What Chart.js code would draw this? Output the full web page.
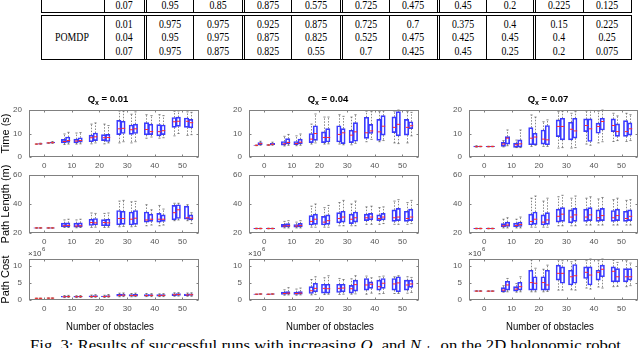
<!DOCTYPE html>
<html><head><meta charset="utf-8">
<script src="https://cdn.jsdelivr.net/npm/chart.js@4"></script>
<style>
html,body{margin:0;padding:0;background:#fff;}
#wrap{position:relative;width:640px;height:348px;overflow:hidden;background:#fff;}
canvas.pc{position:absolute;left:0;top:0;}
.t{position:absolute;font-family:"Liberation Serif","Times New Roman",serif;font-size:12px;line-height:12px;color:#000;white-space:nowrap;}
.ln{position:absolute;background:#000;}
#cap{position:absolute;left:30px;top:337.5px;font-family:"Liberation Serif","Times New Roman",serif;font-size:15px;line-height:15px;white-space:nowrap;transform-origin:0 0;color:#000;}
#cap sub{font-size:10px;vertical-align:-3px;line-height:0;}
</style></head><body><div id="wrap"></div>
<script>
// ---------------- data ----------------
const obstacles = [0, 10, 20, 30, 40, 50];
const qLabels = ['0.01', '0.04', '0.07'];
const yLabels = ['Time (s)', 'Path Length (m)', 'Path Cost'];
const timeTicks = [0, 10, 20];
const lengthTicks = [20, 40, 60];
const costTicks = [0, 5, 10];
const costExponent = '6';
const xLabel = 'Number of obstacles';

// each entry: [min, q1, median, q3, max]; four boxes per obstacle count
const time_q001 = [
  [5.4,5.5,5.5,5.5,5.6],[5.4,5.5,5.6,5.7,5.9],[5.8,5.9,6.0,6.0,6.1],[5.8,6.0,6.1,6.3,6.6],
  [5.3,6.0,6.6,7.5,9.8],[5.5,6.2,7.0,8.5,10.5],[5.5,6.0,6.8,7.6,10.2],[5.6,6.3,7.0,8.2,10.4],
  [5.6,6.5,8.2,9.3,14.0],[6.0,7.0,8.6,10.2,14.5],[5.6,7.0,8.2,9.5,14.0],[6.0,6.6,8.3,9.6,13.4],
  [6.0,9.5,12.0,15.6,19.6],[6.5,10.0,12.2,15.2,19.5],[6.0,9.6,11.6,13.6,18.2],[6.5,10.0,12.0,14.0,19.2],
  [8.0,9.4,11.7,14.6,18.0],[8.5,9.5,10.8,14.0,17.6],[8.0,9.0,10.8,13.8,18.0],[8.2,9.5,11.2,13.6,17.6],
  [9.0,12.6,15.0,16.8,19.5],[10.0,13.0,15.2,17.0,19.6],[9.2,12.6,15.2,16.6,19.2],[9.5,12.4,14.6,16.0,19.0]
];
const time_q004 = [
  [4.8,4.9,5.0,5.0,5.1],[5.0,5.3,5.7,6.1,6.7],[4.9,5.0,5.1,5.2,5.3],[5.0,5.2,5.4,5.8,6.3],
  [4.7,5.0,5.6,6.6,8.8],[5.0,5.6,6.2,7.8,9.6],[4.8,5.2,5.7,6.6,9.0],[5.0,5.6,6.3,7.6,9.8],
  [5.5,6.1,7.6,10.0,14.0],[6.0,7.1,10.0,13.3,18.3],[5.5,6.1,8.3,10.7,17.0],[5.6,6.4,8.3,12.1,17.0],
  [5.5,6.4,9.6,13.3,18.0],[5.2,5.7,10.3,12.1,17.3],[5.2,6.1,9.3,11.4,17.0],[5.8,6.7,10.7,14.6,18.0],
  [6.5,7.9,10.3,16.9,19.5],[7.5,10.0,11.1,13.9,19.3],[6.5,7.1,10.7,16.0,19.3],[7.0,9.3,13.1,17.6,19.6],
  [6.0,10.4,12.6,17.1,19.5],[5.7,9.0,13.9,19.3,20.0],[6.0,9.3,12.6,16.0,19.3],[9.0,12.1,13.3,15.0,19.0]
];
const time_q007 = [
  [4.2,4.3,4.4,4.6,4.8],[4.3,4.4,4.5,4.5,4.6],[4.3,4.4,4.4,4.5,4.6],[4.3,4.4,4.5,4.5,4.6],
  [4.3,4.5,5.5,6.2,7.0],[4.8,5.5,8.0,8.7,11.5],[4.0,4.1,5.2,5.9,7.2],[4.0,4.2,5.6,7.3,11.5],
  [4.5,5.2,8.0,12.5,17.9],[5.0,5.2,8.5,10.1,17.0],[4.5,5.5,7.6,11.5,15.0],[4.5,5.2,7.3,13.4,15.8],
  [3.8,8.7,13.0,15.8,19.3],[4.0,7.3,13.0,16.5,19.5],[3.8,7.3,11.8,14.8,18.6],[4.0,8.0,11.1,16.5,19.3],
  [5.5,10.8,13.4,16.2,19.6],[5.0,6.6,12.0,16.2,19.8],[6.0,10.1,13.0,14.4,19.5],[6.5,11.5,15.1,16.5,20.0],
  [6.6,10.8,13.4,16.2,18.6],[7.0,8.8,10.8,14.1,17.5],[6.6,8.8,10.8,15.5,18.6],[7.0,9.3,12.0,14.5,18.0]
];
const length_q001 = [
  [23.2,23.4,23.5,23.6,23.8],[23.2,23.4,23.5,23.6,23.8],[23.2,23.4,23.5,23.6,23.8],[23.2,23.4,23.5,23.6,23.8],
  [23.8,24.2,25.0,26.8,29.0],[23.8,24.2,25.2,27.0,29.5],[23.6,24.0,24.8,26.8,29.0],[23.8,24.2,25.0,27.0,29.5],
  [23.8,25.2,27.2,29.5,33.8],[24.0,25.5,27.0,30.0,33.5],[23.8,25.0,27.2,29.2,33.5],[24.0,25.0,27.0,29.5,33.8],
  [24.3,25.6,30.0,35.5,42.0],[24.5,26.0,30.0,35.0,42.5],[24.3,25.5,29.5,34.5,41.5],[24.5,26.0,30.2,35.5,41.8],
  [25.0,27.5,29.0,34.5,39.5],[25.5,28.0,29.5,33.0,36.0],[25.0,27.5,29.5,33.5,39.0],[25.5,28.0,29.5,32.5,36.5],
  [28.5,29.0,34.0,39.0,40.5],[29.0,30.0,36.0,39.5,40.5],[28.5,29.5,30.5,38.5,39.5],[26.5,29.0,30.2,32.5,34.0]
];
const length_q004 = [
  [22.8,23.0,23.1,23.2,23.4],[22.8,23.0,23.1,23.2,23.4],[22.8,23.0,23.1,23.2,23.4],[22.8,23.0,23.1,23.2,23.4],
  [23.5,24.0,24.8,26.0,28.0],[23.5,24.2,25.0,26.5,28.5],[23.5,24.0,24.8,25.8,27.5],[23.5,24.2,25.2,26.6,28.5],
  [24.0,25.5,28.0,32.0,38.5],[24.0,26.0,29.5,33.0,40.0],[24.0,25.5,27.5,31.5,37.5],[24.0,26.0,28.5,32.5,39.0],
  [25.0,27.0,30.0,34.0,41.0],[25.0,27.5,31.0,35.0,42.5],[25.0,26.5,29.5,33.0,40.0],[25.0,27.5,30.5,34.5,42.0],
  [26.0,28.5,30.5,33.0,38.0],[26.0,29.0,31.0,33.5,38.5],[26.0,28.5,30.0,32.5,37.5],[26.5,29.0,31.0,33.5,38.0],
  [26.0,28.0,30.5,36.0,42.0],[26.0,28.5,31.0,37.0,43.0],[26.0,28.0,30.0,35.0,41.0],[26.5,28.5,31.0,36.5,42.5]
];
const length_q007 = [
  [22.8,23.0,23.1,23.2,23.4],[22.8,23.0,23.1,23.2,23.4],[22.8,23.0,23.1,23.2,23.4],[22.8,23.0,23.1,23.2,23.4],
  [23.5,24.2,25.0,26.5,29.5],[23.5,24.5,25.5,27.5,30.5],[23.5,24.2,25.2,26.8,29.5],[23.5,24.5,25.8,27.5,31.0],
  [24.0,25.5,28.0,33.0,44.0],[24.0,26.0,29.5,34.5,45.5],[24.0,25.5,27.5,32.5,42.0],[24.0,26.0,29.0,34.0,44.0],
  [25.0,27.5,31.5,36.5,45.0],[25.0,28.0,33.0,37.5,46.0],[25.0,27.0,31.0,36.0,44.0],[25.0,28.0,32.5,37.0,45.5],
  [25.5,28.0,31.0,36.5,44.0],[25.5,28.5,32.5,37.5,45.0],[25.5,28.0,30.5,36.0,43.5],[25.5,28.5,32.0,37.0,44.5],
  [25.5,28.0,30.5,35.5,43.0],[25.5,28.5,32.0,36.5,44.0],[25.5,28.0,30.0,35.0,42.5],[25.5,28.5,31.5,36.0,43.0]
];
const cost_q001 = [
  [0.45,0.5,0.5,0.5,0.55],[0.45,0.5,0.5,0.5,0.55],[0.5,0.55,0.55,0.55,0.6],[0.5,0.55,0.55,0.55,0.6],
  [0.7,0.85,0.95,1.1,1.3],[0.75,0.9,1.0,1.15,1.35],[0.7,0.85,0.95,1.05,1.25],[0.75,0.9,1.0,1.1,1.3],
  [0.75,0.9,1.0,1.2,1.45],[0.8,0.95,1.05,1.3,1.55],[0.75,0.9,1.0,1.15,1.4],[0.8,0.95,1.1,1.3,1.6],
  [0.95,1.15,1.35,1.65,2.0],[1.0,1.2,1.4,1.7,2.05],[0.95,1.1,1.3,1.6,1.9],[1.0,1.15,1.35,1.65,2.0],
  [1.0,1.15,1.3,1.6,1.9],[1.0,1.2,1.35,1.6,1.85],[1.0,1.15,1.3,1.55,1.8],[1.0,1.2,1.35,1.6,1.85],
  [1.1,1.3,1.55,1.8,2.1],[1.15,1.35,1.6,1.85,2.15],[1.1,1.3,1.5,1.75,2.05],[1.1,1.35,1.55,1.8,2.1]
];
const cost_q004 = [
  [1.6,1.65,1.7,1.7,1.75],[1.65,1.7,1.75,1.8,1.85],[1.6,1.65,1.7,1.7,1.75],[1.65,1.7,1.75,1.8,1.85],
  [1.4,1.6,1.9,2.3,3.0],[1.5,1.7,2.0,2.5,3.6],[1.4,1.6,1.9,2.3,3.2],[1.5,1.7,2.0,2.5,3.5],
  [1.5,1.9,2.7,3.9,6.0],[1.6,2.4,3.4,4.9,6.8],[1.6,2.0,3.4,4.6,6.5],[1.7,2.0,3.3,4.6,7.1],
  [1.6,2.2,3.4,4.6,6.3],[1.7,2.4,3.5,4.6,6.0],[1.7,2.0,3.3,4.3,6.2],[1.8,2.6,4.5,5.8,7.1],
  [1.7,2.9,4.4,6.3,7.0],[2.0,3.4,4.6,5.3,6.5],[1.8,2.9,3.9,5.8,6.8],[1.9,3.4,4.9,6.3,7.0],
  [1.9,2.9,4.7,6.3,6.8],[1.9,2.4,5.0,6.8,7.1],[2.0,2.9,4.4,5.8,6.8],[2.2,3.7,4.7,5.8,6.6]
];
const cost_q007 = [
  [2.5,2.55,2.6,2.65,2.75],[2.5,2.55,2.6,2.65,2.75],[2.5,2.55,2.6,2.6,2.7],[2.5,2.55,2.6,2.65,2.7],
  [2.3,2.4,2.9,3.6,4.2],[2.4,2.9,4.4,5.5,6.3],[2.3,2.6,3.2,3.9,4.8],[2.4,2.9,3.9,5.2,6.8],
  [2.4,2.9,5.1,8.7,11.7],[2.4,2.9,4.9,6.8,9.3],[2.4,2.9,5.1,6.8,9.0],[2.5,2.9,4.4,8.7,10.2],
  [2.9,5.8,7.8,10.2,11.7],[2.9,4.9,7.8,9.7,11.5],[3.0,4.4,6.8,8.7,11.2],[2.9,4.9,7.1,10.4,11.7],
  [3.5,6.3,8.1,9.7,11.5],[3.2,4.4,7.3,9.7,12.0],[3.8,5.8,8.1,8.7,11.5],[3.5,6.8,9.0,10.2,12.0],
  [3.9,5.3,8.4,9.7,11.7],[4.0,5.3,6.8,9.2,11.0],[3.9,5.3,6.8,9.2,11.5],[4.2,5.8,6.8,9.2,10.8]
];

// table values
const tablePrevRow = ['0.07','0.95','0.85','0.875','0.575','0.725','0.475','0.45','0.2','0.225','0.125'];
const pomdpLabel = 'POMDP';
const pomdpRows = [
  ['0.01','0.975','0.975','0.925','0.875','0.725','0.7','0.375','0.4','0.15','0.225'],
  ['0.04','0.95','0.975','0.875','0.825','0.525','0.475','0.425','0.45','0.4','0.25'],
  ['0.07','0.975','0.875','0.825','0.55','0.7','0.425','0.45','0.25','0.2','0.075']
];
const captionHtml = 'Fig. 3: Results of successful runs with increasing <i>Q</i><sub><i>x</i></sub> and <i>N</i><sub><i>obs</i></sub> on the 2D holonomic robot.';

// ---------------- layout ----------------
const wrap = document.getElementById('wrap');
const SANS = '"Liberation Sans", Arial, Helvetica, sans-serif';
const BOX_OFFSETS = [-3, -1.5, 1.5, 3];
const COL_L = [29, 249, 469], COL_R = [199, 419, 638];
const ROW_T = [110, 175, 259], ROW_B = [157, 233, 300];
const Y_RANGE = [[0, 20], [20, 60], [0, 12]];
const X_RANGE = [-5.5, 56];
const panelStats = [[time_q001, time_q004, time_q007], [length_q001, length_q004, length_q007], [cost_q001, cost_q004, cost_q007]];
const panelTicks = [timeTicks, lengthTicks, costTicks];

// table
const TBL_L = 41, TBL_R = 631;
const VX = [41, 104, 144, 146, 193, 242, 244, 291, 340, 342, 389, 437, 439, 486, 533, 535, 583, 631];
const CX = [124, 169.5, 218, 267.5, 315.5, 365.5, 413, 462.5, 509.5, 559, 607];
function addLine(x, y, w, h) {
  const d = document.createElement('div'); d.className = 'ln';
  d.style.left = x + 'px'; d.style.top = y + 'px'; d.style.width = w + 'px'; d.style.height = h + 'px';
  wrap.appendChild(d);
}
function addCell(txt, cx, cy) {
  const d = document.createElement('div'); d.className = 't'; d.textContent = txt;
  d.style.left = cx + 'px'; d.style.top = cy + 'px';
  d.style.transform = 'translate(-50%,-50%) scaleX(0.82)';
  wrap.appendChild(d);
}
VX.forEach(x => { addLine(x, 0, 1, 13); addLine(x, 16, 1, 44); });
addLine(TBL_L, 12, TBL_R - TBL_L + 1, 1);
addLine(TBL_L, 15, TBL_R - TBL_L + 1, 1);
addLine(TBL_L, 59, TBL_R - TBL_L + 1, 1);
tablePrevRow.forEach((v, i) => addCell(v, CX[i], 5));
addCell(pomdpLabel, 72, 37);
const ROW_Y = [23.5, 37, 50.5];
pomdpRows.forEach((row, r) => row.forEach((v, i) => addCell(v, CX[i], ROW_Y[r])));

// caption
const cap = document.createElement('div'); cap.id = 'cap'; cap.innerHTML = captionHtml; wrap.appendChild(cap);
const cw = cap.getBoundingClientRect().width; cap.style.transform = 'scaleX(' + (595 / cw) + ')';

// ---------------- charts ----------------
function seg(ctx, x1, y1, x2, y2) { ctx.beginPath(); ctx.moveTo(x1, y1); ctx.lineTo(x2, y2); ctx.stroke(); }

function boxPlugin(r, c, stats, yTicks) {
  return {
    id: 'boxplot' + r + c,
    afterDatasetsDraw(chart) {
      const ctx = chart.ctx, ys = chart.scales.y, meta = chart.getDatasetMeta(0);
      ctx.save();
      stats.forEach((s, i) => {
        const el = meta.data[i]; const x = Math.round(el.x) + 0.5; const w = el.width;
        const py = v => ys.getPixelForValue(v);
        ctx.strokeStyle = '#555'; ctx.lineWidth = 0.7; ctx.setLineDash([1.5, 1.5]);
        seg(ctx, x, py(s[3]), x, py(s[4]));
        seg(ctx, x, py(s[1]), x, py(s[0]));
        ctx.setLineDash([]);
        seg(ctx, x - w / 4, py(s[4]), x + w / 4, py(s[4]));
        seg(ctx, x - w / 4, py(s[0]), x + w / 4, py(s[0]));
        ctx.strokeStyle = '#ff2a2a'; ctx.lineWidth = 1;
        seg(ctx, x - w / 2 + 0.5, py(s[2]), x + w / 2 - 0.5, py(s[2]));
      });
      ctx.restore();
    },
    afterDraw(chart) {
      const ctx = chart.ctx, a = chart.chartArea, xs = chart.scales.x, ys = chart.scales.y;
      ctx.save();
      ctx.strokeStyle = '#808080'; ctx.lineWidth = 1;
      const L = Math.round(a.left) + 0.5, T = Math.round(a.top) + 0.5, R = Math.round(a.right) - 0.5, B = Math.round(a.bottom) - 0.5;
      ctx.strokeRect(L, T, R - L, B - T);
      obstacles.forEach(v => { const p = Math.round(xs.getPixelForValue(v)) + 0.5; seg(ctx, p, B, p, B - 2); seg(ctx, p, T, p, T + 2); });
      yTicks.forEach(v => { const p = Math.round(ys.getPixelForValue(v)) + 0.5; seg(ctx, L, p, L + 2, p); seg(ctx, R, p, R - 2, p); });
      ctx.fillStyle = '#000';
      // panel title
      if (r === 0) {
        const cx = a.left + 79, by = 102;
        ctx.font = 'bold 9.5px ' + SANS; const w1 = ctx.measureText('Q').width;
        const rest = ' = ' + qLabels[c]; const w3 = ctx.measureText(rest).width;
        ctx.font = 'bold 7px ' + SANS; const w2 = ctx.measureText('x').width;
        let x0 = cx - (w1 + w2 + w3) / 2;
        ctx.textAlign = 'left'; ctx.textBaseline = 'alphabetic';
        ctx.font = 'bold 9.5px ' + SANS; ctx.fillText('Q', x0, by);
        ctx.font = 'bold 7px ' + SANS; ctx.fillText('x', x0 + w1, by + 3);
        ctx.font = 'bold 9.5px ' + SANS; ctx.fillText(rest, x0 + w1 + w2, by);
      }
      // y label
      if (c === 0) {
        ctx.save();
        ctx.translate(9, (a.top + a.bottom) / 2); ctx.rotate(-Math.PI / 2);
        ctx.font = '11px ' + SANS; ctx.textAlign = 'center'; ctx.textBaseline = 'alphabetic';
        ctx.fillText(yLabels[r], 0, 0);
        ctx.restore();
      }
      // exponent
      if (r === 2) {
        ctx.fillStyle = '#444'; ctx.textAlign = 'left'; ctx.textBaseline = 'alphabetic';
        ctx.font = '8px ' + SANS; ctx.fillText('\u00d710', a.left - 1, 256);
        const w = ctx.measureText('\u00d710').width;
        ctx.font = '6px ' + SANS; ctx.fillText(costExponent, a.left - 1 + w + 0.5, 251);
        // x label
        ctx.fillStyle = '#000';
        ctx.save(); ctx.translate(a.left + 81, 330); ctx.scale(0.87, 1);
        ctx.font = '11px ' + SANS; ctx.textAlign = 'center'; ctx.fillText(xLabel, 0, 0);
        ctx.restore();
      }
      ctx.restore();
    }
  };
}

function makePanel(r, c) {
  const stats = panelStats[r][c], yTicks = panelTicks[r];
  const cv = document.createElement('canvas');
  cv.width = 640; cv.height = 348; cv.className = 'pc';
  wrap.appendChild(cv);
  const L = COL_L[c], R = COL_R[c], T = ROW_T[r], B = ROW_B[r];
  const YW = 24;
  const pts = stats.map((s, i) => ({ x: obstacles[Math.floor(i / 4)] + BOX_OFFSETS[i % 4], y: [s[1], s[3]] }));
  new Chart(cv, {
    type: 'bar',
    data: { datasets: [{ data: pts, backgroundColor: 'rgba(0,0,0,0)', borderColor: '#3a3aff', borderWidth: 1, borderSkipped: false, barThickness: 4.4 }] },
    options: {
      responsive: false, animation: false, devicePixelRatio: 1, events: [],
      layout: { padding: { left: L - YW, top: T, right: 640 - R, bottom: 0 } },
      plugins: { legend: { display: false }, tooltip: { enabled: false }, title: { display: false } },
      scales: {
        x: {
          type: 'linear', offset: false, min: X_RANGE[0], max: X_RANGE[1],
          afterBuildTicks: ax => { ax.ticks = obstacles.map(v => ({ value: v })); },
          afterFit: ax => { ax.height = 348 - B; },
          grid: { display: false, drawTicks: false }, border: { display: false },
          ticks: { padding: 4, color: '#555', font: { family: SANS, size: 8 }, maxRotation: 0, autoSkip: false }
        },
        y: {
          type: 'linear', min: Y_RANGE[r][0], max: Y_RANGE[r][1], beginAtZero: false,
          afterBuildTicks: ax => { ax.ticks = yTicks.map(v => ({ value: v })); },
          afterFit: ax => { ax.width = YW; },
          grid: { display: false, drawTicks: false }, border: { display: false },
          ticks: { padding: 7, color: '#555', font: { family: SANS, size: 8 }, autoSkip: false }
        }
      }
    },
    plugins: [boxPlugin(r, c, stats, yTicks)]
  });
}
for (let r = 0; r < 3; r++) for (let c = 0; c < 3; c++) makePanel(r, c);
</script></body></html>
